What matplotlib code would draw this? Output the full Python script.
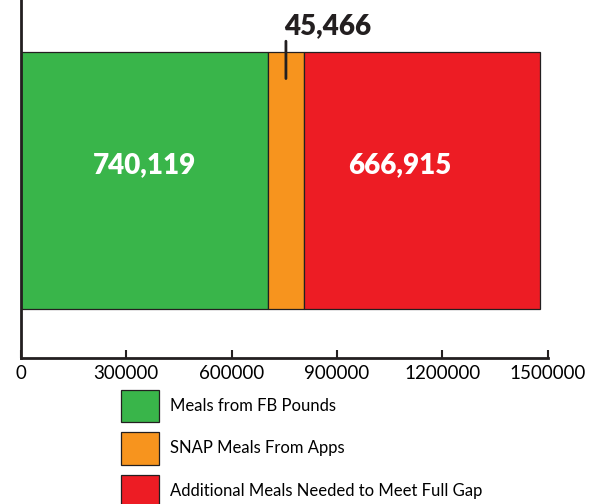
import matplotlib.pyplot as plt

# --- data ---
series = ["Meals from FB Pounds", "SNAP Meals From Apps", "Additional Meals Needed to Meet Full Gap"]
widths = [703000, 103000, 672000]          # drawn segment lengths
value_labels = ["740,119", "45,466", "666,915"]
colors = ["#39b54a", "#f7941e", "#ed1c24"]
xticks = [0, 300000, 600000, 900000, 1200000, 1500000]

plt.rcParams['font.family'] = ['Lato', 'DejaVu Sans']
ink = "#231f20"

fig = plt.figure(figsize=(6.05, 5.04), dpi=100)
ax = fig.add_axes([21 / 605, 1 - 358 / 504, 526.7 / 605, 358 / 504])

left = 0
bars = []
for name, w, c in zip(series, widths, colors):
    b = ax.barh(0, w, left=left, height=1, color=c, edgecolor=ink, linewidth=0.9, label=name)
    bars.append(b)
    left += w

ax.set_xlim(0, 1500000)
ax.set_ylim(-0.69, 0.70)

# labels inside the big segments (red one sits left of centre)
starts = [0, widths[0], widths[0] + widths[1]]
for i, dx in ((0, 0), (2, -16)):
    ax.annotate(value_labels[i], xy=(starts[i] + widths[i] / 2, 0.058), xytext=(dx, 0),
                textcoords="offset points", color="white",
                fontsize=20, fontweight="heavy", ha="center", va="center")

# small segment: callout above the bar
mid = starts[1] + widths[1] / 2
ax.annotate("", xy=(mid, 0.395), xytext=(mid, 0.54),
            arrowprops=dict(arrowstyle="-", color=ink, lw=2, shrinkA=0, shrinkB=0))
ax.annotate(value_labels[1], xy=(mid, 0.54), xytext=(30, 5), textcoords="offset points",
            color=ink, fontsize=20, fontweight="heavy", ha="center", va="baseline")

ax.set_xticks(xticks)
ax.set_xticklabels([str(t) for t in xticks], fontsize=13.5)
ax.set_yticks([])
ax.tick_params(axis="x", direction="in", length=6, width=1.5, color=ink, pad=5)
for s in ("top", "right"):
    ax.spines[s].set_visible(False)
for s in ("left", "bottom"):
    ax.spines[s].set_linewidth(2)
    ax.spines[s].set_color(ink)

fig.legend(handles=[b.patches[0] for b in bars], labels=series,
           loc="upper left", bbox_to_anchor=(121 / 605, 1 - 390 / 504),
           frameon=False, fontsize=12, handlelength=2.3, handleheight=2.6,
           labelspacing=0.6, handletextpad=0.65, borderaxespad=0, borderpad=0)

fig.savefig("out.png", dpi=100)
